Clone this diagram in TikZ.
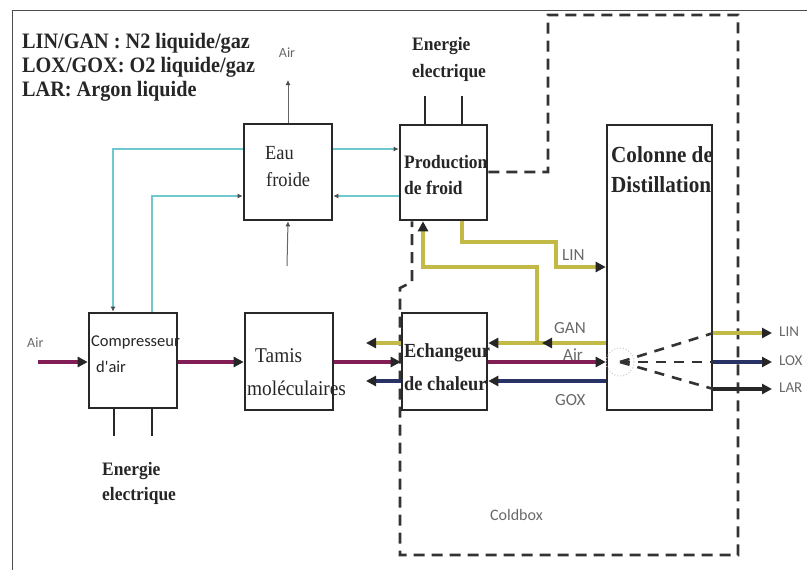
\documentclass[tikz,border=0pt]{standalone}
\usepackage{fontspec}
\setmainfont{Liberation Serif}
\newfontfamily\tfont[FakeStretch=0.92]{Liberation Serif}
\newfontfamily\lblfont{Carlito}
\usetikzlibrary{arrows.meta}
\definecolor{cyanl}{RGB}{110,200,205}
\definecolor{yel}{RGB}{195,185,70}
\definecolor{mag}{RGB}{130,30,85}
\definecolor{dblue}{RGB}{40,50,100}
\definecolor{lblgray}{RGB}{105,105,105}
\definecolor{boxc}{RGB}{40,40,40}
\tikzset{
  box/.style={draw=boxc, line width=2.6pt, inner sep=0pt, fill=none},
  txt/.style={anchor=base west, inner sep=0pt, text=black!85},
  lbl/.style={inner sep=0pt, text=lblgray, font=\lblfont\fontsize{17}{20}\selectfont},
  big/.style={-{Triangle[length=10pt,width=10pt,black!85]}},
  flowbase/.style={line width=3.2pt, big},
  yelflow/.style={flowbase, draw=yel},
  magflow/.style={flowbase, draw=mag},
  blueflow/.style={flowbase, draw=dblue},
  blackflow/.style={flowbase, draw=boxc},
  cy/.style={draw=cyanl, line width=1.6pt, -{Latex[length=5pt,width=5pt,black!70]}},
  thinar/.style={draw=gray!80!black, line width=1pt, -{Latex[length=5pt,width=5pt,black!70]}},
  elec/.style={draw=boxc, line width=2.6pt},
  coldbox/.style={draw=black!80, line width=2.6pt, dash pattern=on 11pt off 7pt},
  fan/.style={draw=black!80, line width=2.6pt, dash pattern=on 10pt off 8pt},
}
\begin{document}
\begin{tikzpicture}[x=1pt,y=-1pt]
\useasboundingbox (0,0) rectangle (807,570);
% outer frame
\draw[draw=gray!60!black, line width=1pt] (12,575) -- (12,10) -- (812,10);

% legend
\node[txt, font=\tfont\bfseries\fontsize{22}{26}\selectfont] (leg1) at (22,48) {LIN/GAN : N2 liquide/gaz};
\node[txt, font=\tfont\bfseries\fontsize{22}{26}\selectfont] (leg2) at (22,72) {LOX/GOX: O2 liquide/gaz};
\node[txt, font=\tfont\bfseries\fontsize{22}{26}\selectfont] (leg3) at (22,96) {LAR: Argon liquide};

% coldbox dashed boundary
\node[box, draw=none, minimum width=87pt, minimum height=95pt] (prodg) at (443.5,172.5) {};
\draw[coldbox] (prodg.east |- 0,172) -- (548,172) -- (548,15) -- (738,15) -- (738,555) -- (400,555) -- (400,288) -- (412,282) -- (prodg.south -| 412,0);
\node[lbl, anchor=base west, font=\lblfont\fontsize{16}{19}\selectfont] (coldlbl) at (490,520) {Coldbox};

% boxes
\node[box, minimum width=88pt, minimum height=96pt] (eau) at (288,172) {};
\node[box, fill=white, minimum width=87pt, minimum height=95pt] (prod) at (443.5,172.5) {};
\node[box, fill=white, minimum width=105pt, minimum height=285pt] (col) at (659.5,267.5) {};
\node[box, minimum width=88pt, minimum height=95pt] (comp) at (133,360.5) {};
\node[box, minimum width=88pt, minimum height=97pt] (tamis) at (289,361.5) {};
\node[box, fill=white, minimum width=85pt, minimum height=97pt] (ech) at (444.5,361.5) {};

% box texts
\node[txt, font=\tfont\fontsize{20}{24}\selectfont] (eaut1) at (265,159) {Eau};
\node[txt, font=\tfont\fontsize{20}{24}\selectfont] (eaut2) at (266,186) {froide};
\node[txt, font=\tfont\bfseries\fontsize{19}{23}\selectfont] (prodt1) at (404,168) {Production};
\node[txt, font=\tfont\bfseries\fontsize{19}{23}\selectfont] (prodt2) at (404,194) {de froid};
\node[txt, font=\tfont\bfseries\fontsize{23}{27}\selectfont] (colt1) at (611,162) {Colonne de};
\node[txt, font=\tfont\bfseries\fontsize{23}{27}\selectfont] (colt2) at (611,192) {Distillation};
\node[txt, font=\lblfont\fontsize{16.5}{20}\selectfont] (compt1) at (91,346) {Compresseur};
\node[txt, font=\lblfont\fontsize{16.5}{20}\selectfont] (compt2) at (96,372) {d'air};
\node[txt, font=\tfont\fontsize{21}{25}\selectfont] (tamt1) at (255,362) {Tamis};
\node[txt, font=\tfont\fontsize{21}{25}\selectfont] (tamt2) at (247,395) {moléculaires};
\node[txt, font=\tfont\bfseries\fontsize{20}{24}\selectfont] (echt1) at (404,357) {Echangeur};
\node[txt, font=\tfont\bfseries\fontsize{20}{24}\selectfont] (echt2) at (404,390) {de chaleur};

% energie electrique
\node[txt, font=\tfont\bfseries\fontsize{19}{23}\selectfont] (ener1) at (412,50) {Energie};
\node[txt, font=\tfont\bfseries\fontsize{19}{23}\selectfont] (ener2) at (412,77) {electrique};
\draw[elec] (prod.north -| 425,0) -- ++(0,-28);
\draw[elec] (prod.north -| 462,0) -- ++(0,-28);
\node[txt, font=\tfont\bfseries\fontsize{19}{23}\selectfont] (enerb1) at (102,475) {Energie};
\node[txt, font=\tfont\bfseries\fontsize{19}{23}\selectfont] (enerb2) at (102,500) {electrique};
\draw[elec] (comp.south -| 114,0) -- ++(0,27);
\draw[elec] (comp.south -| 152,0) -- ++(0,27);

% air to/from eau froide
\node[lbl, anchor=base, font=\lblfont\fontsize{14}{17}\selectfont] (airtop) at (287,57) {Air};
\draw[thinar] (eau.north) -- (eau.north |- 0,80);
\coordinate (eaubot) at (287,266);
\draw[thinar] (eaubot) -- (eau.south);

% cyan cooling water
\draw[cy] (eau.west |- 0,149) -| (comp.north -| 113,0);
\draw[cy] (comp.north -| 152,0) |- (eau.west |- 0,196);
\draw[cy] (eau.east |- 0,149) -- (prod.west |- 0,149);
\draw[cy] (prod.west |- 0,196) -- (eau.east |- 0,196);

% labels of flows
\node[lbl, anchor=base west, font=\lblfont\fontsize{14}{17}\selectfont] (airin) at (27,347) {Air};
\node[lbl, anchor=base west] (ganl) at (554,333) {GAN};
\node[lbl, anchor=base west] (airml) at (563,360) {Air};
\node[lbl, anchor=base west] (goxl) at (555,405) {GOX};
\node[lbl, anchor=base west] (linl) at (562,260) {LIN};
\node[lbl, anchor=west, font=\lblfont\fontsize{15}{18}\selectfont] (linr) at (779,332) {LIN};
\node[lbl, anchor=west, font=\lblfont\fontsize{15}{18}\selectfont] (loxr) at (779,361) {LOX};
\node[lbl, anchor=west, font=\lblfont\fontsize{15}{18}\selectfont] (larr) at (779,388) {LAR};

% air line
\coordinate (airstart) at (38,362);
\draw[magflow] (airstart) -- (comp.west |- airstart);
\draw[magflow] (comp.east |- 0,362) -- (tamis.west |- 0,362);
\draw[magflow] (tamis.east |- 0,362) -- (ech.west |- 0,362);
\draw[magflow] (ech.east |- 0,362) -- (col.west |- 0,362);

% outputs from echangeur to the left
\coordinate (gout) at (366,343);
\coordinate (xout) at (366,381);
\draw[yelflow] (ech.west |- gout) -- (gout);
\draw[blueflow] (ech.west |- xout) -- (xout);

% GAN and GOX
\draw[yelflow] (col.west |- 0,343) -- (ech.east |- 0,343);
\draw[yelflow] (575,343) -- (542,343);
\draw[yelflow] (537,343) -- (537,267) -- (423,267) -- (prod.south -| 423,0);
\draw[blueflow] (col.west |- 0,381) -- (ech.east |- 0,381);

% LIN to column
\draw[yelflow] (prod.south -| 462,0) -- (462,242) -- (556,242) -- (556,267) -- (col.west |- 0,267);

% inside column
\coordinate (valve) at (620,362);
\draw[gray!40, dotted, line width=1pt] (valve) circle (14pt);
\draw[fan] (valve) -- (col.east |- 0,333);
\draw[fan] (valve) -- (col.east |- 0,362);
\draw[fan] (valve) -- (col.east |- 0,389);

% outputs to the right
\draw[yelflow] (col.east |- 0,333) -- (772,333);
\draw[blueflow] (col.east |- 0,362) -- (772,362);
\draw[blackflow] (col.east |- 0,389) -- (772,389);
\end{tikzpicture}
\end{document}
